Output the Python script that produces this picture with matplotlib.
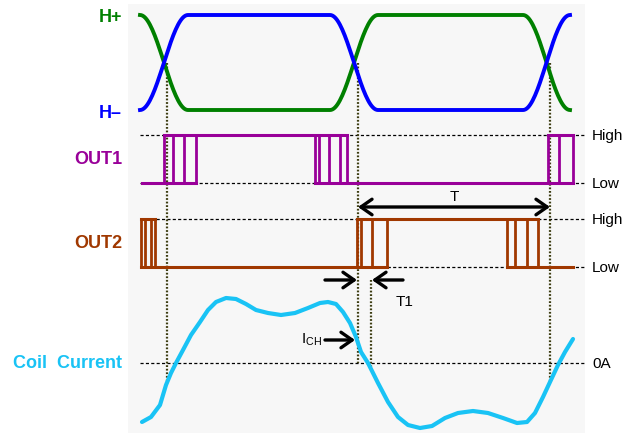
"""
Motor driver timing diagram: Hall inputs, OUT1/OUT2 switching and coil current
"""

import numpy as np
import matplotlib.pyplot as plt
from matplotlib.patches import Rectangle

plt.rcParams['font.family'] = ['Liberation Sans', 'DejaVu Sans']
plt.rcParams['mathtext.fontset'] = 'custom'
plt.rcParams['mathtext.rm'] = 'Liberation Sans'

# ---- data (time axis in drawing units) ----
# Hall transitions: ramp start / end times and H+ level at each point
HALL_T = [140, 188, 330, 378, 523, 570]
HP_LEVEL = [1, 0, 0, 1, 1, 0]

# OUT1 / OUT2: spans at high level, spans at low level, switching edges
OUT1_HIGH = [(164, 347), (548, 573)]
OUT1_LOW = [(142, 196), (315, 573)]
OUT1_EDGES = [164, 173, 184, 196, 315, 319, 329, 340, 347, 548, 559, 573]

OUT2_HIGH = [(141, 155), (357, 538)]
OUT2_LOW = [(141, 387), (507, 573)]
OUT2_EDGES = [141, 145, 151, 155, 357, 361, 372, 387, 507, 515, 527, 538]

# coil current (arbitrary units, 0 = 0A)
COIL_T = [142, 151, 160, 166, 171, 176, 183, 191, 200, 208, 216, 226, 236, 246,
          256, 268, 281, 295, 308, 320, 328, 336, 343, 350, 356, 361, 368, 378,
          388, 398, 408, 420, 432, 445, 458, 473, 488, 503, 517, 527, 535, 543,
          550, 558, 565, 573]
COIL_I = [-59, -54, -42, -22, -10, 0, 13, 28, 41, 53, 61, 65, 64, 59,
          53, 50, 48, 50, 55, 60, 61, 59, 51, 40, 26, 11, 0, -20,
          -39, -54, -62, -65, -63, -55, -50, -48, -50, -55, -60, -59, -50, -34,
          -19, -2, 11, 24]

SYNC_T = [167, 358, 550]     # Hall crossing points
T1_END = 371
T_LABEL = "T"
T1_LABEL = "T1"

# ---- layout (pixel rows) ----
HALL_HI, HALL_LO = 15, 110
OUT1_HI, OUT1_LO = 135, 183
OUT2_HI, OUT2_LO = 219, 267
COIL_ZERO = 363
X_START, X_END = 140, 585

C_HP = '#008000'
C_HM = '#0000ff'
C_OUT1 = '#990099'
C_OUT2 = '#a03800'
C_COIL = '#19c3f5'
C_SYNC = '#3d3d12'

fig = plt.figure(figsize=(6.32, 4.33), dpi=100)
ax = fig.add_axes([0, 0, 1, 1])
ax.set_xlim(0, 632)
ax.set_ylim(433, 0)
ax.axis('off')

ax.add_patch(Rectangle((128, 4), 457, 429, fc='#f7f7f7', ec='none', zorder=0))


def hall_wave(t_pts, levels, n=40):
    xs, ys = [], []
    for i in range(len(t_pts) - 1):
        t = np.linspace(t_pts[i], t_pts[i + 1], n)
        a, b = levels[i], levels[i + 1]
        s = (1 - np.cos(np.pi * (t - t[0]) / (t[-1] - t[0]))) / 2
        xs.append(t)
        ys.append(a + (b - a) * s)
    return np.concatenate(xs), np.concatenate(ys)


hx, hp = hall_wave(HALL_T, HP_LEVEL)
hm = 1 - hp
ax.plot(hx, HALL_LO + (HALL_HI - HALL_LO) * hp, color=C_HP, lw=2.8, zorder=3)
ax.plot(hx, HALL_LO + (HALL_HI - HALL_LO) * hm, color=C_HM, lw=2.8, zorder=3)

# reference dotted lines
ref = dict(color='black', lw=0.9, ls=(0, (2.5, 1.8)), zorder=1)
for yy in (OUT1_HI, OUT1_LO, OUT2_HI, OUT2_LO, COIL_ZERO):
    ax.plot([X_START, X_END], [yy, yy], **ref)


def draw_out(high, low, edges, hi, lo, color):
    for a, b in high:
        ax.plot([a, b], [hi, hi], color=color, lw=2.2, solid_capstyle='projecting', zorder=3)
    for a, b in low:
        ax.plot([a, b], [lo, lo], color=color, lw=2.2, solid_capstyle='projecting', zorder=3)
    for e in edges:
        ax.plot([e, e], [hi, lo], color=color, lw=2.0, zorder=3)


draw_out(OUT1_HIGH, OUT1_LOW, OUT1_EDGES, OUT1_HI, OUT1_LO, C_OUT1)
draw_out(OUT2_HIGH, OUT2_LOW, OUT2_EDGES, OUT2_HI, OUT2_LO, C_OUT2)

# coil current
coil_y = COIL_ZERO - np.array(COIL_I)
ax.plot(COIL_T, coil_y, color=C_COIL, lw=3.0, solid_joinstyle='round',
        solid_capstyle='round', zorder=3)

# vertical sync lines
hall_mid = (HALL_HI + HALL_LO) / 2
sync = dict(color=C_SYNC, lw=1.6, ls=(0, (0.8, 0.8)), zorder=2)
for t in SYNC_T:
    y_end = max(COIL_ZERO, np.interp(t, COIL_T, coil_y))
    ax.plot([t, t], [hall_mid, y_end], **sync)
ax.plot([T1_END, T1_END], [280, max(COIL_ZERO, np.interp(T1_END, COIL_T, coil_y))], **sync)

# arrows
arr = dict(arrowstyle='->,head_length=0.4,head_width=0.28', color='black', lw=2.4,
           mutation_scale=20, shrinkA=0, shrinkB=0)
arr2 = dict(arr, arrowstyle='<->,head_length=0.4,head_width=0.28')
ax.annotate('', xy=(SYNC_T[2], 207), xytext=(SYNC_T[1], 207), arrowprops=arr2, zorder=4)
ax.text((SYNC_T[1] + SYNC_T[2]) / 2, 197, T_LABEL, fontsize=11, ha='center', va='center')

ax.annotate('', xy=(SYNC_T[1] - 1, 280), xytext=(325, 280), arrowprops=arr, zorder=4)
ax.annotate('', xy=(T1_END + 1, 280), xytext=(403, 280), arrowprops=arr, zorder=4)
ax.text(405, 302, T1_LABEL, fontsize=11, ha='center', va='center')

ax.annotate('', xy=(355, 340), xytext=(325, 340), arrowprops=arr, zorder=4)
ax.text(322, 340, r'$\mathregular{I_{CH}}$', fontsize=11, ha='right', va='center')

# row labels
lab = dict(fontsize=13, fontweight='bold', ha='right', va='center')
ax.text(122, 17, 'H+', color=C_HP, **lab)
ax.text(122, 113, 'H–', color=C_HM, **lab)
ax.text(122, 159, 'OUT1', color=C_OUT1, **lab)
ax.text(122, 244, 'OUT2', color=C_OUT2, **lab)
ax.text(122, 363, 'Coil  Current', color=C_COIL, **lab)

for yy, s in ((OUT1_HI, 'High'), (OUT1_LO, 'Low'), (OUT2_HI, 'High'),
              (OUT2_LO, 'Low'), (COIL_ZERO, '0A')):
    ax.text(592, yy + 1, s, fontsize=11, ha='left', va='center')

fig.savefig('out.png', dpi=100)
